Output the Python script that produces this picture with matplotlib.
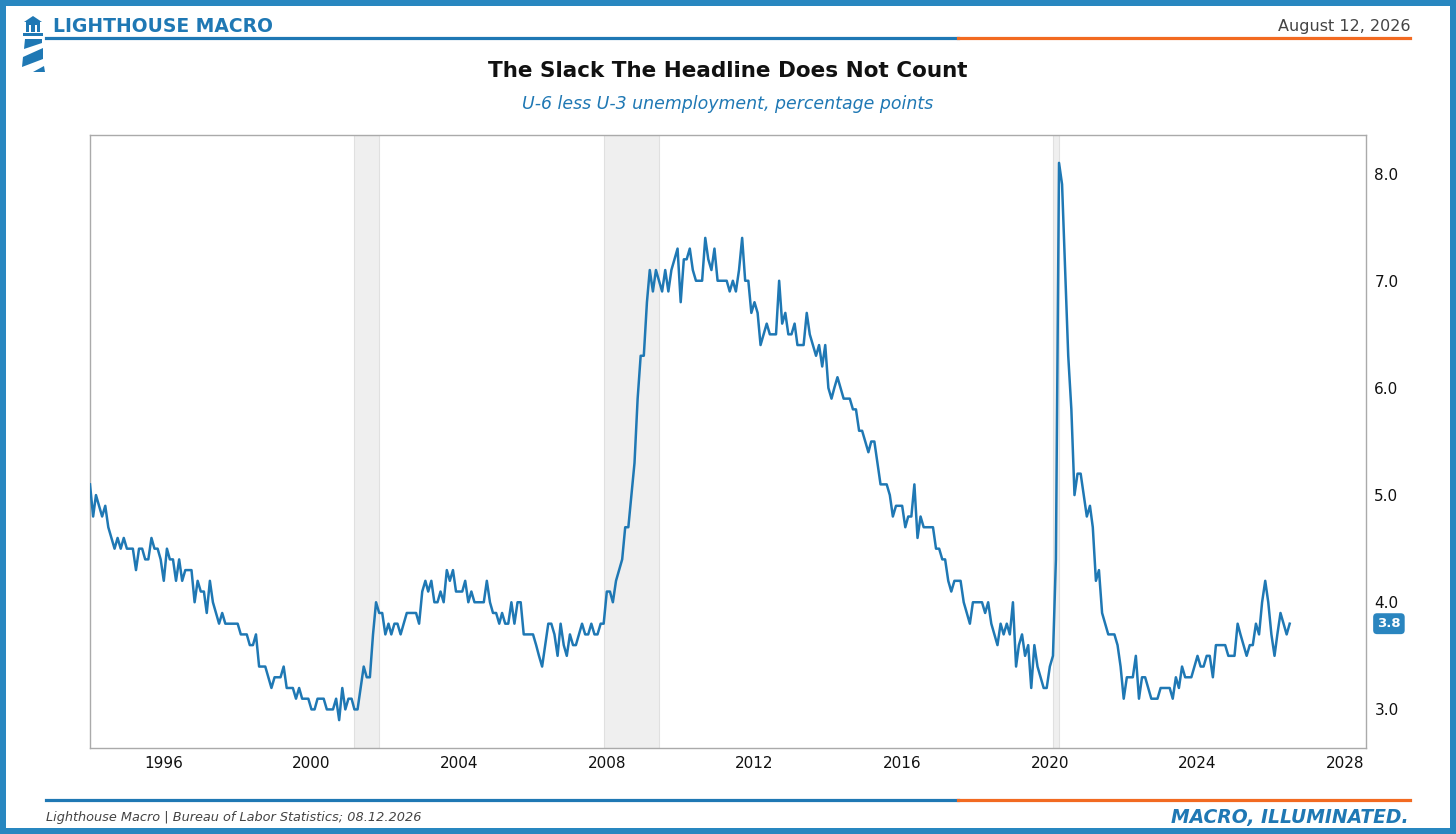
import numpy as np
import pandas as pd
import matplotlib.pyplot as plt
from matplotlib.patches import Polygon, Rectangle
from matplotlib.lines import Line2D

# U-6 minus U-3, monthly, Jan 1994 .. Jul 2026 (percentage points)
spread = [
    5.1, 4.8, 5.0, 4.9, 4.8, 4.9, 4.7, 4.6, 4.5, 4.6, 4.5, 4.6,  # 1994
    4.5, 4.5, 4.5, 4.3, 4.5, 4.5, 4.4, 4.4, 4.6, 4.5, 4.5, 4.4,  # 1995
    4.2, 4.5, 4.4, 4.4, 4.2, 4.4, 4.2, 4.3, 4.3, 4.3, 4.0, 4.2,  # 1996
    4.1, 4.1, 3.9, 4.2, 4.0, 3.9, 3.8, 3.9, 3.8, 3.8, 3.8, 3.8,  # 1997
    3.8, 3.7, 3.7, 3.7, 3.6, 3.6, 3.7, 3.4, 3.4, 3.4, 3.3, 3.2,  # 1998
    3.3, 3.3, 3.3, 3.4, 3.2, 3.2, 3.2, 3.1, 3.2, 3.1, 3.1, 3.1,  # 1999
    3.0, 3.0, 3.1, 3.1, 3.1, 3.0, 3.0, 3.0, 3.1, 2.9, 3.2, 3.0,  # 2000
    3.1, 3.1, 3.0, 3.0, 3.2, 3.4, 3.3, 3.3, 3.7, 4.0, 3.9, 3.9,  # 2001
    3.7, 3.8, 3.7, 3.8, 3.8, 3.7, 3.8, 3.9, 3.9, 3.9, 3.9, 3.8,  # 2002
    4.1, 4.2, 4.1, 4.2, 4.0, 4.0, 4.1, 4.0, 4.3, 4.2, 4.3, 4.1,  # 2003
    4.1, 4.1, 4.2, 4.0, 4.1, 4.0, 4.0, 4.0, 4.0, 4.2, 4.0, 3.9,  # 2004
    3.9, 3.8, 3.9, 3.8, 3.8, 4.0, 3.8, 4.0, 4.0, 3.7, 3.7, 3.7,  # 2005
    3.7, 3.6, 3.5, 3.4, 3.6, 3.8, 3.8, 3.7, 3.5, 3.8, 3.6, 3.5,  # 2006
    3.7, 3.6, 3.6, 3.7, 3.8, 3.7, 3.7, 3.8, 3.7, 3.7, 3.8, 3.8,  # 2007
    4.1, 4.1, 4.0, 4.2, 4.3, 4.4, 4.7, 4.7, 5.0, 5.3, 5.9, 6.3,  # 2008
    6.3, 6.8, 7.1, 6.9, 7.1, 7.0, 6.9, 7.1, 6.9, 7.1, 7.2, 7.3,  # 2009
    6.8, 7.2, 7.2, 7.3, 7.1, 7.0, 7.0, 7.0, 7.4, 7.2, 7.1, 7.3,  # 2010
    7.0, 7.0, 7.0, 7.0, 6.9, 7.0, 6.9, 7.1, 7.4, 7.0, 7.0, 6.7,  # 2011
    6.8, 6.7, 6.4, 6.5, 6.6, 6.5, 6.5, 6.5, 7.0, 6.6, 6.7, 6.5,  # 2012
    6.5, 6.6, 6.4, 6.4, 6.4, 6.7, 6.5, 6.4, 6.3, 6.4, 6.2, 6.4,  # 2013
    6.0, 5.9, 6.0, 6.1, 6.0, 5.9, 5.9, 5.9, 5.8, 5.8, 5.6, 5.6,  # 2014
    5.5, 5.4, 5.5, 5.5, 5.3, 5.1, 5.1, 5.1, 5.0, 4.8, 4.9, 4.9,  # 2015
    4.9, 4.7, 4.8, 4.8, 5.1, 4.6, 4.8, 4.7, 4.7, 4.7, 4.7, 4.5,  # 2016
    4.5, 4.4, 4.4, 4.2, 4.1, 4.2, 4.2, 4.2, 4.0, 3.9, 3.8, 4.0,  # 2017
    4.0, 4.0, 4.0, 3.9, 4.0, 3.8, 3.7, 3.6, 3.8, 3.7, 3.8, 3.7,  # 2018
    4.0, 3.4, 3.6, 3.7, 3.5, 3.6, 3.2, 3.6, 3.4, 3.3, 3.2, 3.2,  # 2019
    3.4, 3.5, 4.4, 8.1, 7.9, 7.1, 6.3, 5.8, 5.0, 5.2, 5.2, 5.0,  # 2020
    4.8, 4.9, 4.7, 4.2, 4.3, 3.9, 3.8, 3.7, 3.7, 3.7, 3.6, 3.4,  # 2021
    3.1, 3.3, 3.3, 3.3, 3.5, 3.1, 3.3, 3.3, 3.2, 3.1, 3.1, 3.1,  # 2022
    3.2, 3.2, 3.2, 3.2, 3.1, 3.3, 3.2, 3.4, 3.3, 3.3, 3.3, 3.4,  # 2023
    3.5, 3.4, 3.4, 3.5, 3.5, 3.3, 3.6, 3.6, 3.6, 3.6, 3.5, 3.5,  # 2024
    3.5, 3.8, 3.7, 3.6, 3.5, 3.6, 3.6, 3.8, 3.7, 4.0, 4.2, 4.0,  # 2025
    3.7, 3.5, 3.7, 3.9, 3.8, 3.7, 3.8,                           # 2026
]
start_month = '1994-01-01'

recession_starts = ['2001-03-01', '2007-12-01', '2020-02-01']
recession_ends = ['2001-11-01', '2009-06-01', '2020-04-01']

y_ticks = [3.0, 4.0, 5.0, 6.0, 7.0, 8.0]
x_tick_years = [1996, 2000, 2004, 2008, 2012, 2016, 2020, 2024, 2028]

title = 'The Slack The Headline Does Not Count'
subtitle = 'U-6 less U-3 unemployment, percentage points'
brand = 'LIGHTHOUSE MACRO'
date_text = 'August 12, 2026'
source_text = 'Lighthouse Macro | Bureau of Labor Statistics; 08.12.2026'
tagline = 'MACRO, ILLUMINATED.'

W, H = 1456, 834
BLUE = '#1f78b4'
FRAME_BLUE = '#2887c0'
ORANGE = '#f26a21'


def fx(px):
    return px / W


def fy(py):
    return 1 - py / H


dates = pd.date_range(start_month, periods=len(spread), freq='MS')
values = np.array(spread)

fig = plt.figure(figsize=(W / 100, H / 100), dpi=100)
fig.patch.set_facecolor('white')

# outer frame
t = 6
for (x0, y0, w, h) in [(0, 0, W, t), (0, H - t, W, t), (0, 0, t, H), (W - t, 0, t, H)]:
    fig.patches.append(Rectangle((fx(x0), fy(y0 + h)), w / W, h / H, transform=fig.transFigure,
                                 facecolor=FRAME_BLUE, edgecolor='none', zorder=10))

# header / footer rules
for yy in (38, 800):
    fig.add_artist(Line2D([fx(46), fx(958)], [fy(yy), fy(yy)], color=BLUE, lw=2.3,
                          transform=fig.transFigure))
    fig.add_artist(Line2D([fx(958), fx(1410)], [fy(yy), fy(yy)], color=ORANGE, lw=2.3,
                          transform=fig.transFigure))

# lighthouse logo
logo_shapes = [
    [(24, 22), (33, 16), (42, 22)],
    [(26, 22), (40, 22), (40, 25), (26, 25)],
    [(26, 25), (29, 25), (29, 32), (26, 32)],
    [(37, 25), (40, 25), (40, 32), (37, 32)],
    [(31, 25), (35, 25), (35, 32), (31, 32)],
    [(23, 33), (43, 33), (43, 36), (23, 36)],
    [(25, 39), (42, 39), (42, 43), (24, 49)],
    [(23, 57), (43, 48), (43, 59), (22, 67)],
    [(33, 72), (44, 66), (45, 72)],
]
for pts in logo_shapes:
    fig.patches.append(Polygon([(fx(a), fy(b)) for a, b in pts], closed=True,
                               transform=fig.transFigure, facecolor=BLUE, edgecolor='none'))

fig.text(fx(53), fy(27), brand, color=BLUE, fontsize=13.5, fontweight='bold', va='center', ha='left')
fig.text(fx(1410), fy(26), date_text, color='#444444', fontsize=11.5, va='center', ha='right')
fig.text(fx(728), fy(71), title, color='#111111', fontsize=15.5, fontweight='bold', ha='center', va='center')
fig.text(fx(728), fy(104), subtitle, color=BLUE, fontsize=12.5, style='italic', ha='center', va='center')
fig.text(fx(46), fy(818), source_text, color='#444444', fontsize=9.3, style='italic', ha='left', va='center')
fig.text(fx(1409), fy(818), tagline, color=BLUE, fontsize=13.5, fontweight='bold', style='italic',
         ha='right', va='center')

# chart
ax = fig.add_axes([fx(90), fy(748), (1366 - 90) / W, (748 - 135) / H])
for s, e in zip(recession_starts, recession_ends):
    ax.axvspan(pd.Timestamp(s), pd.Timestamp(e), facecolor='#efefef', edgecolor='#e0e0e0', lw=0.8, zorder=0)

ax.plot(dates, values, color=BLUE, lw=1.8, zorder=3)

ax.set_xlim(pd.Timestamp('1994-01-01'), pd.Timestamp('2028-07-25'))
ax.margins(y=0.05)
ax.set_xticks([pd.Timestamp(f'{y}-01-01') for y in x_tick_years])
ax.set_xticklabels([str(y) for y in x_tick_years])
ax.set_yticks(y_ticks)
ax.set_yticklabels([f'{v:.1f}' for v in y_ticks])
ax.yaxis.tick_right()
ax.tick_params(axis='both', length=0, labelsize=11, colors='#111111')
ax.tick_params(axis='x', pad=6)
ax.tick_params(axis='y', pad=6)
for sp in ax.spines.values():
    sp.set_color('#aaaaaa')
    sp.set_linewidth(1.0)
ax.grid(False)

# last value tag
ax.annotate(f'{values[-1]:.1f}', xy=(1.0, values[-1]), xycoords=('axes fraction', 'data'),
            xytext=(8, 0), textcoords='offset points', ha='left', va='center',
            color='white', fontsize=9.5, fontweight='bold',
            bbox=dict(boxstyle='round,pad=0.3', facecolor='#2a85bf', edgecolor='none'))

fig.savefig('out.png', dpi=100)
